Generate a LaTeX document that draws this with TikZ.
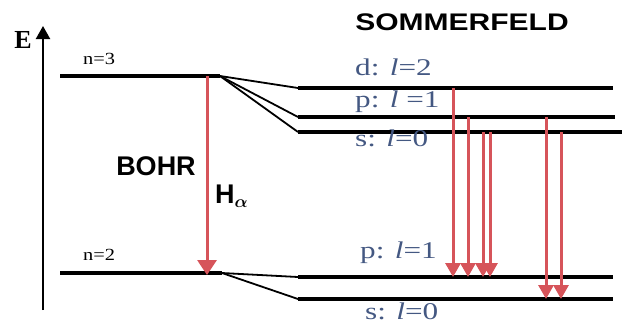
\documentclass[tikz,border=0pt]{standalone}
\usepackage{amsmath}
\usepackage{fontspec}
\setmainfont{Liberation Serif}
\newfontfamily\headfont{Liberation Sans}
\usetikzlibrary{arrows.meta, positioning, calc}
\definecolor{lineRed}{RGB}{214,84,90}
\definecolor{labelBlue}{RGB}{68,88,130}

\begin{document}
\begin{tikzpicture}[x=1pt, y=-1pt,
  level/.style={line width=3.2pt},
  split/.style={line width=1.8pt},
  trans/.style={lineRed, line width=3pt, -{Triangle[width=15pt,length=14pt]}},
  orb/.style={labelBlue, anchor=base west, inner sep=0pt, font=\fontsize{24}{24}\selectfont},
  quant/.style={anchor=base west, inner sep=0pt, font=\fontsize{17}{17}\selectfont},
  title/.style={inner sep=0pt, font=\headfont\bfseries\fontsize{27}{27}\selectfont}]
\useasboundingbox (0,0) rectangle (623,325);

% energy axis
\coordinate (axbot) at (43,310);
\coordinate (axtop) at (43,26);
\draw[line width=2.2pt, -{Triangle[width=14pt,length=13pt]}] (axbot) -- (axtop);
\node[inner sep=0pt, font=\bfseries\fontsize{26}{26}\selectfont] (E) at (23,40) {E};

% Bohr levels
\coordinate (n3a) at (60,76);  \coordinate (n3b) at (220,76);
\coordinate (n2a) at (60,273); \coordinate (n2b) at (222,273);
\draw[level] (n3a) -- (n3b);
\draw[level] (n2a) -- (n2b);
\node[quant] (n3) at (83,64) {\scalebox{1.2}[1]{n=3}};
\node[quant] (n2) at (83,260) {\scalebox{1.2}[1]{n=2}};

% Sommerfeld levels
\coordinate (d3a) at (298,88);  \coordinate (d3b) at (613,88);
\coordinate (p3a) at (298,117); \coordinate (p3b) at (615,117);
\coordinate (s3a) at (298,132); \coordinate (s3b) at (622,132);
\coordinate (p2a) at (298,277); \coordinate (p2b) at (613,277);
\coordinate (s2a) at (298,299); \coordinate (s2b) at (613,299);
\foreach \lv in {d3,p3,s3,p2,s2} \draw[level] (\lv a) -- (\lv b);
\foreach \lv in {d3,p3,s3} \draw[split] (n3b) -- (\lv a);
\foreach \lv in {p2,s2} \draw[split] (n2b) -- (\lv a);

% labels
\node[title] (bohr) at (156,166) {BOHR};
\node[title] (somm) at (462,22) {\scalebox{1.25}[1]{\fontsize{24}{24}\selectfont SOMMERFELD}};
\node[orb] (dl) at (355,75) {\scalebox{1.3}[1]{d: \textit{l}=2}};
\node[orb] (pl) at (355,107) {\scalebox{1.3}[1]{p: \textit{l} =1}};
\node[orb] (sl) at (355,146) {\scalebox{1.3}[1]{s: \textit{l}=0}};
\node[orb] (pl2) at (360,258) {\scalebox{1.3}[1]{p: \textit{l}=1}};
\node[orb] (sl2) at (365,319) {\scalebox{1.3}[1]{s: \textit{l}=0}};
\node[title, anchor=west] (Ha) at (215,196) {H$_{\boldsymbol\alpha}$};

% transitions
\coordinate (ha) at (207,0);
\draw[trans, -{Triangle[width=19pt,length=15pt]}] (ha |- n3a) -- ([yshift=-2pt]ha |- n2a);
\foreach \x/\from/\to [count=\i] in {453/d3/p2, 468/p3/p2, 483/s3/p2, 490/s3/p2, 546/p3/s2, 561/s3/s2}{
  \coordinate (t\i) at (\x,0);
  \draw[trans] (t\i |- \from a) -- (t\i |- \to a);
}
\end{tikzpicture}
\end{document}
